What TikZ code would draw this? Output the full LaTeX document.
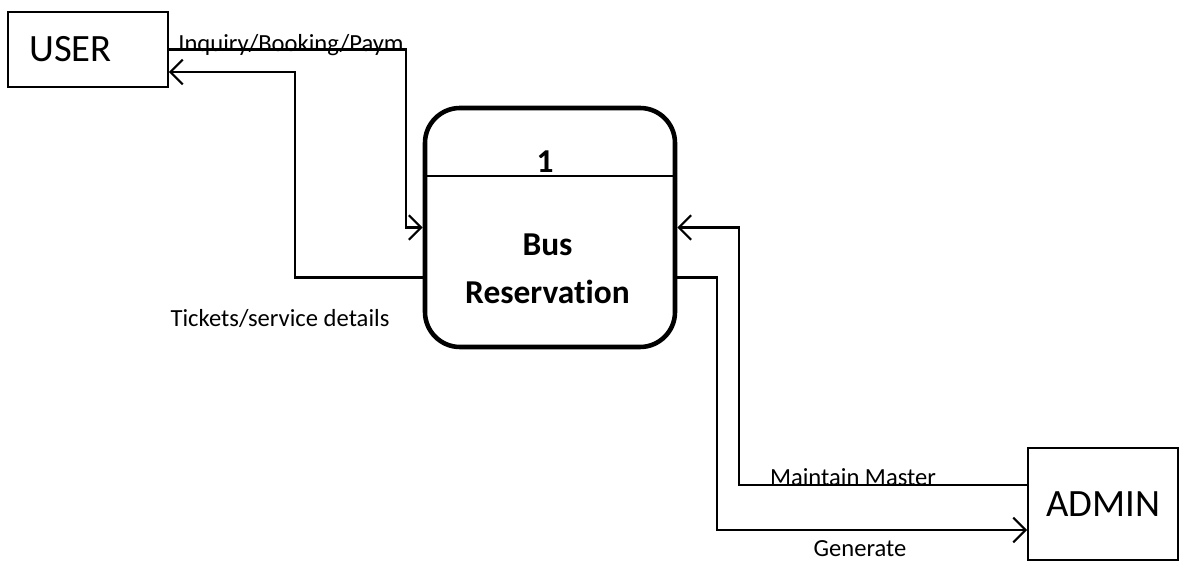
\documentclass[tikz,border=0pt]{standalone}
\usepackage{fontspec}
\setmainfont{Carlito}[Ligatures=NoCommon]
\usetikzlibrary{arrows.meta}

\tikzset{
  entity/.style={draw, line width=1.1pt, inner sep=0pt, font=\fontsize{22}{26}\selectfont},
  process/.style={draw, line width=2.6pt, rounded corners=0.7cm, inner sep=0pt,
    minimum width=5cm, minimum height=4.78cm},
  flow/.style={line width=1.2pt, -{Straight Barb[length=7pt,width=14pt,line width=1.2pt]}},
  flowlabel/.style={font=\fontsize{14}{16}\selectfont, inner sep=0pt}
}

\begin{document}
\begin{tikzpicture}[semithick]
  \useasboundingbox (0,0) rectangle (23.6,11.28);

  % external entities and the process
  \node[entity, minimum width=3.2cm, minimum height=1.5cm] (user) at (1.76,10.29) {USER\rule{0.7cm}{0pt}};
  \node[entity, minimum width=3.0cm, minimum height=2.24cm] (admin) at (22.06,1.2) {ADMIN};
  \node[process] (proc) at (11.0,6.73) {};
  \draw[line width=1pt] ([yshift=-1.4cm]proc.north west) -- ([yshift=-1.4cm]proc.north east);
  \node[font=\bfseries\fontsize{19}{27}\selectfont, anchor=base] (procid) at (10.9,7.82) {1};
  \node[font=\bfseries\fontsize{19}{27}\selectfont, align=center] (procname) at (10.95,5.9) {Bus\\Reservation};

  % data flows
  \draw[flow] (user.east) -- ++(4.74,0) |- (proc.west);
  \draw[flow] ([yshift=-1cm]proc.west) -- ++(-2.56,0) |- ([yshift=-0.45cm]user.east);
  \draw[flow] ([yshift=0.38cm]admin.west) -- ++(-5.76,0) |- (proc.east);
  \draw[flow] ([yshift=-1cm]proc.east) -- ++(0.8,0) |- ([yshift=-0.52cm]admin.west);

  % flow labels
  \node[flowlabel, anchor=base] (inquiry) at (5.82,10.24) {Inquiry/Booking/Paym};
  \node[flowlabel] (tickets) at (5.6,4.92) {Tickets/service details};
  \node[flowlabel, anchor=base] (maintain) at (17.06,1.56) {Maintain Master};
  \node[flowlabel] (generate) at (17.2,0.3) {Generate};

\end{tikzpicture}
\end{document}
